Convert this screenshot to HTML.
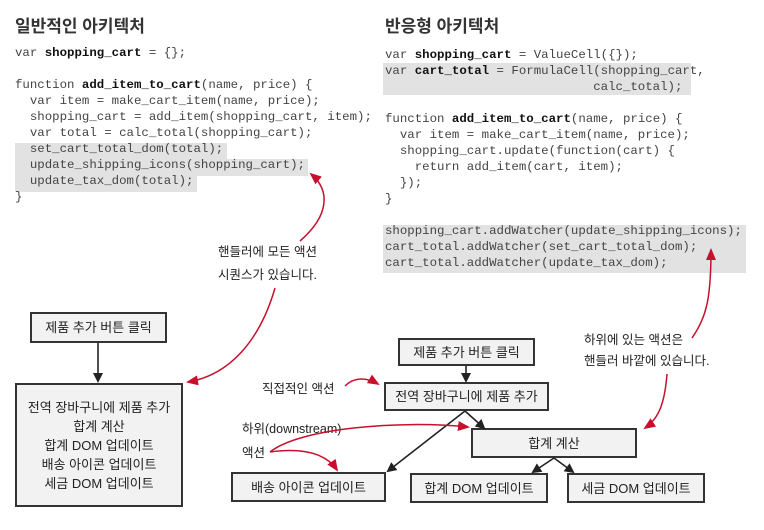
<!DOCTYPE html>
<html><head><meta charset="utf-8"><style>
body{margin:0;width:764px;height:530px;background:#fff;position:relative;overflow:hidden;font-family:"Liberation Sans","Noto Sans CJK KR",sans-serif;color:#222}
.t{position:absolute;font-weight:bold;font-size:17px;color:#333}
.code{position:absolute;font-family:"Liberation Mono",monospace;font-size:12.4px;line-height:16px;white-space:pre;color:#444}
.code b{color:#111}
.hl{position:absolute;background:#e2e2e2}
.box{position:absolute;border:2px solid #333;background:#f2f2f2;box-sizing:border-box;display:flex;align-items:center;justify-content:center;text-align:center;font-size:13px;color:#222;line-height:19px}
.lb{position:absolute;font-size:12.5px;color:#222;white-space:nowrap}
</style></head><body>
<div class="t" style="left:15px;top:12px">일반적인 아키텍처</div>
<div class="t" style="left:385px;top:12px">반응형 아키텍처</div>

<div class="hl" style="left:15px;top:143px;width:212px;height:17px"></div>
<div class="hl" style="left:15px;top:159px;width:293px;height:17px"></div>
<div class="hl" style="left:15px;top:175px;width:182px;height:17px"></div>
<div class="code" style="left:15px;top:45px">var <b>shopping_cart</b> = {};

function <b>add_item_to_cart</b>(name, price) {
  var item = make_cart_item(name, price);
  shopping_cart = add_item(shopping_cart, item);
  var total = calc_total(shopping_cart);
  set_cart_total_dom(total);
  update_shipping_icons(shopping_cart);
  update_tax_dom(total);
}</div>

<div class="hl" style="left:383px;top:63px;width:308px;height:32px"></div>
<div class="hl" style="left:383px;top:225px;width:363px;height:48px"></div>
<div class="code" style="left:385px;top:47px">var <b>shopping_cart</b> = ValueCell({});
var <b>cart_total</b> = FormulaCell(shopping_cart,
                            calc_total);

function <b>add_item_to_cart</b>(name, price) {
  var item = make_cart_item(name, price);
  shopping_cart.update(function(cart) {
    return add_item(cart, item);
  });
}

shopping_cart.addWatcher(update_shipping_icons);
cart_total.addWatcher(set_cart_total_dom);
cart_total.addWatcher(update_tax_dom);</div>

<div class="lb" style="left:218px;top:241px">핸들러에 모든 액션</div>
<div class="lb" style="left:218px;top:264px">시퀀스가 있습니다.</div>
<div class="lb" style="left:584px;top:329px">하위에 있는 액션은</div>
<div class="lb" style="left:584px;top:350px">핸들러 바깥에 있습니다.</div>
<div class="lb" style="left:262px;top:378px">직접적인 액션</div>
<div class="lb" style="left:242px;top:418px">하위(downstream)</div>
<div class="lb" style="left:242px;top:442px">액션</div>

<div class="box" style="left:30px;top:312px;width:137px;height:31px">제품 추가 버튼 클릭</div>
<div class="box" style="left:15px;top:383px;width:168px;height:124px">전역 장바구니에 제품 추가<br>합계 계산<br>합계 DOM 업데이트<br>배송 아이콘 업데이트<br>세금 DOM 업데이트</div>
<div class="box" style="left:398px;top:338px;width:137px;height:28px">제품 추가 버튼 클릭</div>
<div class="box" style="left:384px;top:382px;width:165px;height:29px">전역 장바구니에 제품 추가</div>
<div class="box" style="left:471px;top:428px;width:166px;height:30px">합계 계산</div>
<div class="box" style="left:231px;top:472px;width:155px;height:30px">배송 아이콘 업데이트</div>
<div class="box" style="left:410px;top:473px;width:138px;height:30px">합계 DOM 업데이트</div>
<div class="box" style="left:567px;top:473px;width:138px;height:30px">세금 DOM 업데이트</div>

<svg width="764" height="530" style="position:absolute;left:0;top:0">
<defs>
<marker id="k" markerWidth="10" markerHeight="10" refX="8" refY="5" orient="auto" markerUnits="userSpaceOnUse"><path d="M0,0 L10,5 L0,10 z" fill="#222"/></marker>
<marker id="r" markerWidth="12" markerHeight="10" refX="10" refY="5" orient="auto" markerUnits="userSpaceOnUse"><path d="M0,0 L12,5 L0,10 z" fill="#c8102e"/></marker>
</defs>
<g stroke="#222" stroke-width="1.6" fill="none" marker-end="url(#k)">
<path d="M98 343 L98 381"/>
<path d="M466 366 L466 381"/>
<path d="M465 411 L484 428"/>
<path d="M465 411 L388 471"/>
<path d="M554 458 L533 472"/>
<path d="M554 458 L573 472"/>
</g>
<g stroke="#c8102e" stroke-width="1.5" fill="none" marker-end="url(#r)">
<path d="M300 241 C330 215 330 190 311 174"/>
<path d="M275 288 C260 340 230 375 188 382"/>
<path d="M692 338 C706 318 711 300 711 250"/>
<path d="M667 374 C665 400 660 418 645 428"/>
<path d="M345 386 C355 376 368 378 378 384"/>
<path d="M270 452 C300 428 400 420 468 427"/>
<path d="M270 452 C300 448 325 452 337 470"/>
</g>
</svg>
</body></html>
